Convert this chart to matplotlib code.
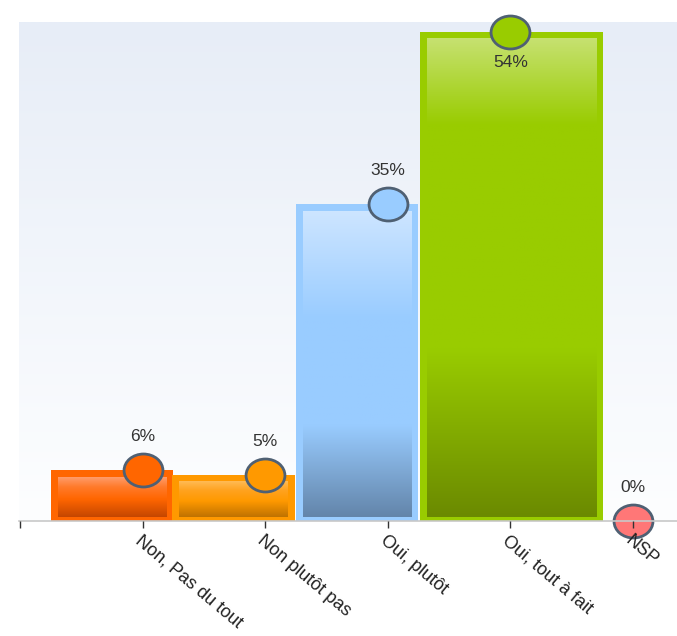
import matplotlib.pyplot as plt
import numpy as np
from matplotlib.colors import LinearSegmentedColormap
from matplotlib.path import Path

plt.rcParams['font.family'] = ['Liberation Sans', 'DejaVu Sans']

# Data
categories = ['Non, Pas du tout', 'Non plutôt pas', 'Oui, plutôt', 'Oui, tout à fait', 'NSP']
values = [5.6, 5.1, 35, 54, 0]

# Styles
border_colors = ['#FF6600', '#FF9900', '#99CCFF', '#99CC00', '#FF7777']
marker_colors = ['#FF6600', '#FF9900', '#99CCFF', '#99CC00', '#FF7777']
# gradient stops: bottom (dark) -> top (light)
grad_colors = [
    [(0, '#C44600'), (0.45, '#FF6600'), (0.75, '#FF7A2A'), (1, '#FF9C6A')],
    [(0, '#BF7200'), (0.45, '#FF9900'), (0.75, '#FFA320'), (1, '#FFBB55')],
    [(0, '#6385AA'), (0.3, '#99CCFF'), (0.65, '#99CCFF'), (1, '#CDE5FF')],
    [(0, '#6B8A00'), (0.35, '#99CC00'), (0.82, '#99CC00'), (1, '#C6E170')],
]
bar_widths = [1.0, 1.0, 1.0, 1.5]
bar_shift = [-0.75, -0.76, -0.75, -0.74]

W, H = 677, 636
fig = plt.figure(figsize=(W / 100, H / 100), dpi=100)
ax_l, ax_r, ax_b, ax_t = 19 / W, 1.0, (H - 521) / H, (H - 22) / H
ax = fig.add_axes([ax_l, ax_b, ax_r - ax_l, ax_t - ax_b])

xlim = (-0.01, 5.36)
ylim = (0, 55.1)
px_x = (ax_r - ax_l) * W / (xlim[1] - xlim[0])
px_y = (ax_t - ax_b) * H / (ylim[1] - ylim[0])

# background gradient
bg_cmap = LinearSegmentedColormap.from_list('bg', ['#FDFEFF', '#E7EDF7'])
grad = np.linspace(0, 1, 256).reshape(-1, 1)
ax.imshow(grad, cmap=bg_cmap, origin='lower', aspect='auto',
          extent=(xlim[0], xlim[1], ylim[0], ylim[1]), zorder=0)

x = np.arange(1, len(categories) + 1)

# bars: border + inner gradient
for i in range(4):
    left = x[i] + bar_shift[i]
    w = bar_widths[i]
    v = values[i]
    ax.bar(left, v, width=w, align='edge', color=border_colors[i], zorder=1)
    cmap = LinearSegmentedColormap.from_list('g%d' % i, grad_colors[i])
    ix, it, ib = 7 / px_x, 7 / px_y, 4 / px_y
    ax.imshow(grad, cmap=cmap, origin='lower', aspect='auto',
              extent=(left + ix, left + w - ix, ib, v - it), zorder=1.5)

# markers
ell = Path(Path.unit_circle().vertices * np.array([1.18, 1.0]), Path.unit_circle().codes)
for i in range(len(categories)):
    ax.plot(x[i], values[i], marker=ell, ms=28, mfc=marker_colors[i], mec='#4F6073',
            mew=2.0, ls='none', clip_on=False, zorder=2.4)
    off = -22 if values[i] == max(values) else 24
    ax.annotate('%.0f%%' % values[i], (x[i], values[i]), xytext=(0, off),
                textcoords='offset points', ha='center', va='center',
                fontsize=12.5, color='#333333', zorder=5)

ax.set_axisbelow(False)
ax.set_xlim(*xlim)
ax.set_ylim(*ylim)
ax.set_xticks(np.arange(0, len(categories) + 1))
ax.set_xticklabels([''] + categories, rotation=-40, ha='left', va='top',
                   rotation_mode='anchor')
ax.tick_params(axis='x', length=5, width=1, color='#333333', pad=3,
               labelsize=13, labelcolor='#222222')
ax.set_yticks([])
for s in ['left', 'right', 'top']:
    ax.spines[s].set_visible(False)
ax.spines['bottom'].set_color('#C8C8C8')
ax.spines['bottom'].set_linewidth(1.2)

plt.savefig('out.png', dpi=100)
